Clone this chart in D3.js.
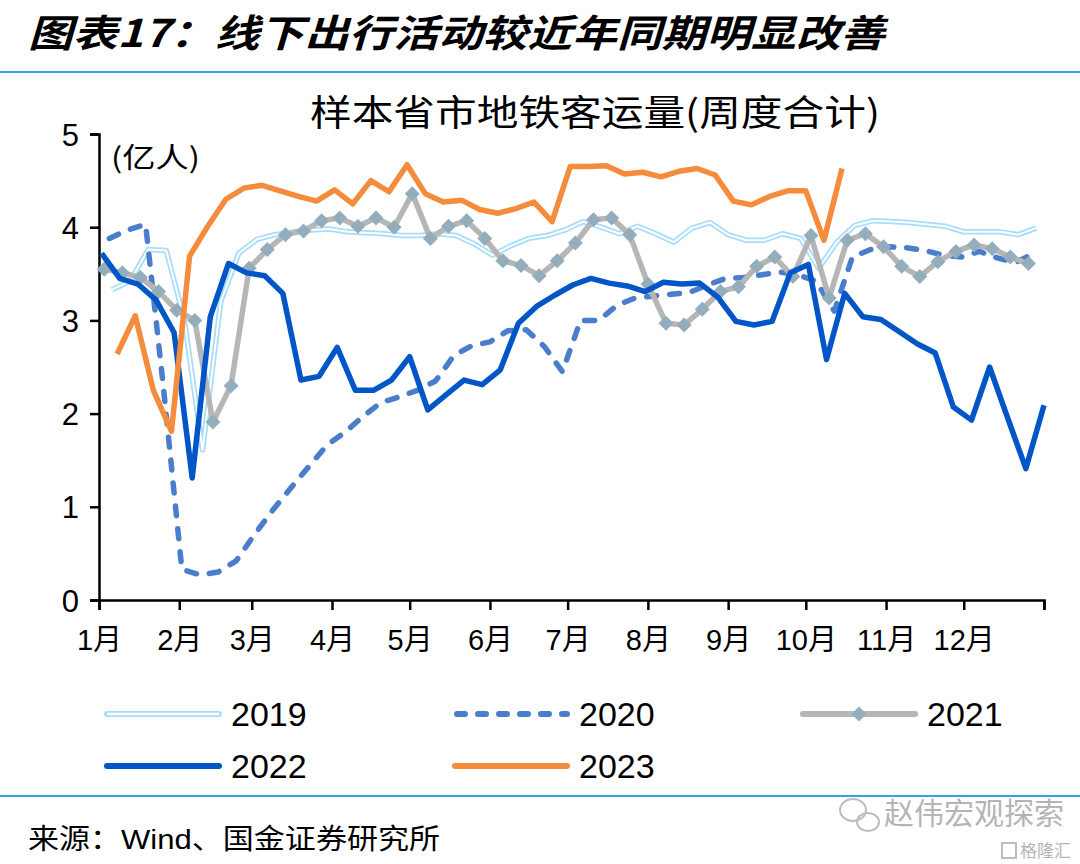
<!DOCTYPE html>
<html><head><meta charset="utf-8">
<script src="https://cdn.jsdelivr.net/npm/d3@7"></script>
<style>body{margin:0;background:#fff} svg{display:block}</style>
</head><body>
<svg id="c" width="1080" height="864"></svg>
<script>
// ---- data ----
const monthLabels = ["1月","2月","3月","4月","5月","6月","7月","8月","9月","10月","11月","12月"];
const monthStartDays = [0,31,59,90,120,151,181,212,243,273,304,334];
const yTicks = [0,1,2,3,4,5];
const seriesNames = ["2019","2020","2021","2022","2023"];
// day-of-year of each series' first weekly observation (Sundays)
const firstWeekDay = [5,4,2,1,7];
const v2019 = [3.33,3.42,3.76,3.75,3.00,1.61,3.20,3.72,3.87,3.92,3.95,3.97,3.98,3.95,3.94,3.93,3.91,3.91,3.93,3.91,3.82,3.70,3.80,3.88,3.91,3.97,4.06,4.00,3.93,4.01,3.93,3.84,3.99,4.05,3.92,3.86,3.86,3.93,3.88,3.56,3.84,4.02,4.07,4.06,4.05,4.03,4.01,3.95,3.95,3.95,3.92,3.99];
const v2020 = [3.88,3.97,4.03,2.25,0.33,0.27,0.30,0.42,0.70,0.96,1.20,1.43,1.66,1.80,1.97,2.12,2.18,2.25,2.35,2.62,2.73,2.77,2.89,2.90,2.72,2.45,3.00,3.00,3.16,3.24,3.26,3.28,3.30,3.38,3.45,3.46,3.49,3.52,3.49,3.42,3.10,3.68,3.76,3.79,3.78,3.75,3.70,3.68,3.74,3.67,3.62,3.72];
const v2021 = [3.55,3.51,3.46,3.31,3.11,3.00,1.91,2.30,3.56,3.76,3.92,3.96,4.07,4.10,4.01,4.10,4.00,4.36,3.88,4.01,4.07,3.88,3.64,3.59,3.48,3.64,3.83,4.08,4.10,3.92,3.39,2.97,2.95,3.12,3.31,3.36,3.58,3.68,3.47,3.91,3.24,3.86,3.93,3.79,3.58,3.47,3.63,3.74,3.81,3.77,3.68,3.61];
const v2022 = [3.72,3.45,3.39,3.22,2.87,1.31,3.04,3.61,3.51,3.48,3.29,2.36,2.40,2.71,2.25,2.25,2.36,2.61,2.04,2.20,2.36,2.31,2.47,2.97,3.15,3.27,3.38,3.45,3.40,3.37,3.31,3.41,3.39,3.40,3.25,2.99,2.95,2.99,3.51,3.60,2.58,3.29,3.04,3.01,2.88,2.75,2.65,2.07,1.93,2.50,1.95,1.41,2.09];
const v2023 = [2.64,3.05,2.25,1.81,3.69,4.01,4.30,4.42,4.45,4.39,4.33,4.28,4.40,4.25,4.50,4.38,4.67,4.36,4.27,4.29,4.19,4.15,4.20,4.27,4.06,4.65,4.65,4.66,4.57,4.59,4.54,4.60,4.63,4.56,4.28,4.24,4.33,4.39,4.39,3.86,4.63];
const seriesValues = [v2019,v2020,v2021,v2022,v2023];

// ---- drawing ----
const svg = d3.select("#c");
const cjk = "'Noto Sans CJK SC','Noto Sans',sans-serif";
const lat = "'Liberation Sans','Noto Sans CJK SC',Arial,sans-serif";
const x = d3.scaleLinear().domain([0,365]).range([99,1044]);
const y = d3.scaleLinear().domain([0,5]).range([600,134]);

// header
svg.append("text").attr("x",28).attr("y",47)
  .attr("font-family",cjk).attr("font-size",38).attr("font-weight","bold").attr("font-style","italic")
  .attr("textLength",857).attr("lengthAdjust","spacingAndGlyphs")
  .text("图表17：线下出行活动较近年同期明显改善");
svg.append("rect").attr("x",0).attr("y",71).attr("width",1080).attr("height",2).attr("fill","#2AA7E1");
svg.append("rect").attr("x",0).attr("y",795).attr("width",1080).attr("height",2).attr("fill","#2AA7E1");

svg.append("text").attr("x",310).attr("y",126)
  .attr("font-family",cjk).attr("font-size",36)
  .attr("textLength",570).attr("lengthAdjust","spacingAndGlyphs")
  .text("样本省市地铁客运量(周度合计)");
svg.append("text").attr("x",111).attr("y",168)
  .attr("font-family",cjk).attr("font-size",28)
  .attr("textLength",89).attr("lengthAdjust","spacingAndGlyphs")
  .text("(亿人)");

// axes
const yAxis = d3.axisLeft(y).tickValues(yTicks).tickSize(9).tickFormat(d3.format("d"));
const gy = svg.append("g").attr("transform","translate(99,0)").call(yAxis);
gy.select(".domain").attr("stroke","#000").attr("stroke-width",2.5);
gy.selectAll(".tick line").attr("stroke","#000").attr("stroke-width",2.5);
gy.selectAll(".tick text").attr("font-family",lat).attr("font-size",31).attr("fill","#000").attr("x",-20).attr("dy","0.36em");

const xAxis = d3.axisBottom(x).tickValues(monthStartDays.concat([365])).tickSize(10)
  .tickFormat((d)=>{const i = monthStartDays.indexOf(d); return i>=0?monthLabels[i]:"";});
const gx = svg.append("g").attr("transform","translate(0,600)").call(xAxis);
gx.select(".domain").attr("stroke","#000").attr("stroke-width",2.5);
gx.selectAll(".tick line").attr("stroke","#000").attr("stroke-width",2.5);
gx.selectAll(".tick text").attr("font-family",lat).attr("font-size",29).attr("fill","#000").attr("y",29).attr("dy","0.71em");

// lines
const plot = svg.append("g");
function lineFor(k){
  return d3.line().x((d,i)=>x(firstWeekDay[k]+7*i)).y(d=>y(d));
}
// 2019 double line
plot.append("path").attr("d",lineFor(0)(v2019)).attr("fill","none").attr("stroke","#A7DDF8").attr("stroke-width",5.5).attr("stroke-linejoin","round");
plot.append("path").attr("d",lineFor(0)(v2019)).attr("fill","none").attr("stroke","#fff").attr("stroke-width",2).attr("stroke-linejoin","round");
// 2020 dashed
plot.append("path").attr("d",lineFor(1)(v2020)).attr("fill","none").attr("stroke","#4A7ECC").attr("stroke-width",5.5)
  .attr("stroke-dasharray","10,13").attr("stroke-linecap","round").attr("stroke-linejoin","round");
// 2021 gray with diamonds
plot.append("path").attr("d",lineFor(2)(v2021)).attr("fill","none").attr("stroke","#B6B6B6").attr("stroke-width",5.5).attr("stroke-linejoin","round");
const diamond = "M0,-7.5L7.5,0L0,7.5L-7.5,0Z";
plot.selectAll(".dm").data(v2021).enter().append("path").attr("class","dm")
  .attr("d",diamond).attr("fill","#93ADBD")
  .attr("transform",(d,i)=>`translate(${x(firstWeekDay[2]+7*i)},${y(d)})`);
// 2022 solid blue
plot.append("path").attr("d",lineFor(3)(v2022)).attr("fill","none").attr("stroke","#0056C6").attr("stroke-width",5.5).attr("stroke-linejoin","round");
// 2023 orange
plot.append("path").attr("d",lineFor(4)(v2023)).attr("fill","none").attr("stroke","#F58C3D").attr("stroke-width",5.5).attr("stroke-linejoin","round");

// legend
const legendPos = [[107,714],[455,714],[803,714],[107,766],[455,766]];
const lg = svg.append("g");
seriesNames.forEach((name,k)=>{
  const [lx,ly] = legendPos[k];
  const g = lg.append("g").attr("transform",`translate(${lx},${ly})`);
  const len = 112;
  if(k===0){
    g.append("line").attr("x1",0).attr("x2",len).attr("stroke","#A7DDF8").attr("stroke-width",6).attr("stroke-linecap","round");
    g.append("line").attr("x1",0).attr("x2",len).attr("stroke","#fff").attr("stroke-width",2.5);
  } else if(k===1){
    g.append("line").attr("x1",2).attr("x2",len).attr("stroke","#4A7ECC").attr("stroke-width",6).attr("stroke-dasharray","8,13").attr("stroke-linecap","round");
  } else if(k===2){
    g.append("line").attr("x1",0).attr("x2",len).attr("stroke","#B6B6B6").attr("stroke-width",6).attr("stroke-linecap","round");
    g.append("path").attr("d",diamond).attr("fill","#93ADBD").attr("transform",`translate(${len/2},0)`);
  } else if(k===3){
    g.append("line").attr("x1",0).attr("x2",len).attr("stroke","#0056C6").attr("stroke-width",6).attr("stroke-linecap","round");
  } else {
    g.append("line").attr("x1",0).attr("x2",len).attr("stroke","#F58C3D").attr("stroke-width",6).attr("stroke-linecap","round");
  }
  g.append("text").attr("x",len+12).attr("y",12).attr("font-family",lat).attr("font-size",34).attr("fill","#000").text(name);
});

// footer
svg.append("text").attr("x",28).attr("y",849).attr("font-family",lat).attr("font-size",28)
  .attr("textLength",412).attr("lengthAdjust","spacingAndGlyphs")
  .text("来源：Wind、国金证券研究所");
// watermark
const wm = svg.append("g").attr("opacity",0.55);
wm.append("ellipse").attr("cx",853).attr("cy",810).attr("rx",13).attr("ry",11).attr("fill","none").attr("stroke","#888").attr("stroke-width",2);
wm.append("ellipse").attr("cx",868).attr("cy",822).attr("rx",11).attr("ry",9).attr("fill","none").attr("stroke","#888").attr("stroke-width",2);
wm.append("text").attr("x",884).attr("y",824).attr("font-family",cjk).attr("font-size",30).attr("fill","#777").text("赵伟宏观探索");
wm.append("rect").attr("x",1002).attr("y",843).attr("width",14).attr("height",15).attr("fill","none").attr("stroke","#888").attr("stroke-width",2);
wm.append("text").attr("x",1020).attr("y",857).attr("font-family",cjk).attr("font-size",17).attr("fill","#777").text("格隆汇");
</script>
</body></html>
